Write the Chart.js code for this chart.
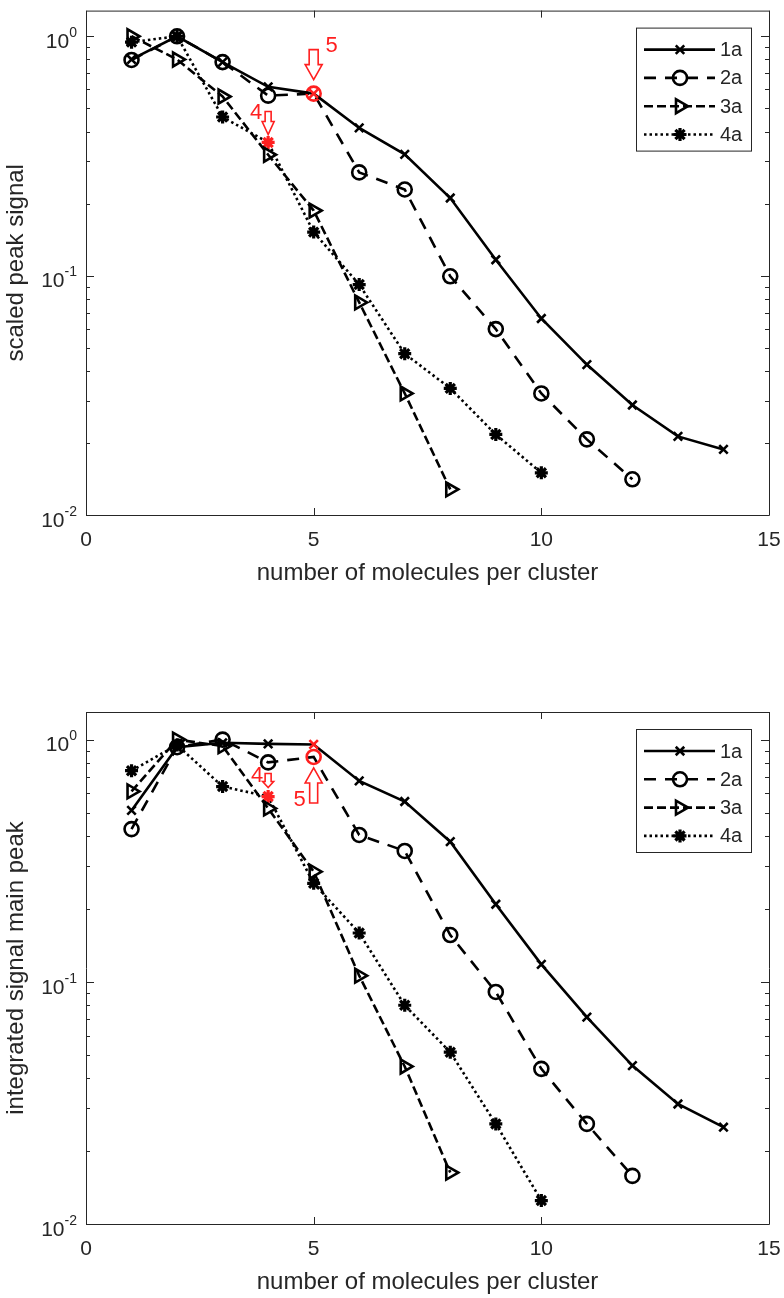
<!DOCTYPE html>
<html>
<head>
<meta charset="utf-8">
<script src="https://cdn.jsdelivr.net/npm/chart.js@4.4.0/dist/chart.umd.min.js"></script>
<style>
  html, body { margin: 0; padding: 0; background: #fff; }
  #wrap { position: relative; width: 784px; height: 1298px; }
  canvas { position: absolute; left: 0; }
</style>
</head>
<body>
<div id="wrap">
  <canvas id="peakChart" width="784" height="640" style="top:0px"></canvas>
  <canvas id="integChart" width="784" height="658" style="top:640px"></canvas>
</div>
<script>
// ---- data ----
const clusterSizes = [1, 2, 3, 4, 5, 6, 7, 8, 9, 10, 11, 12, 13, 14];
const seriesNames = ['1a', '2a', '3a', '4a'];

// top panel: scaled peak signal
const peak1a = [0.80, 1.00, 0.78, 0.615, 0.576, 0.414, 0.321, 0.211, 0.1165, 0.0662, 0.0425, 0.0288, 0.0213, 0.0188];
const peak2a = [0.796, 1.00, 0.78, 0.565, 0.576, 0.27, 0.229, 0.0994, 0.0598, 0.0322, 0.0207, 0.0141];
const peak3a = [1.00, 0.80, 0.56, 0.32, 0.187, 0.0773, 0.0322, 0.0128];
const peak4a = [0.945, 1.00, 0.46, 0.36, 0.152, 0.0918, 0.0472, 0.0338, 0.0217, 0.0150];

// bottom panel: integrated signal main peak
const integ1a = [0.51, 0.93, 0.97, 0.96, 0.955, 0.675, 0.555, 0.379, 0.209, 0.118, 0.0715, 0.0451, 0.0313, 0.0251];
const integ2a = [0.427, 0.93, 1.00, 0.805, 0.848, 0.404, 0.347, 0.156, 0.0908, 0.0437, 0.0259, 0.0158];
const integ3a = [0.611, 1.00, 0.94, 0.52, 0.285, 0.106, 0.0447, 0.0163];
const integ4a = [0.744, 0.95, 0.64, 0.582, 0.255, 0.159, 0.080, 0.0512, 0.0259, 0.0125];

// highlighted (red) point per series, -1 = none
const redIndex = [4, 4, -1, 3];

const xTicks = [0, 5, 10, 15];
const yMajorTicks = [1, 0.1, 0.01];
const yTickExp = ['0', '-1', '-2'];

// ---- style ----
const INK = '#262626';
const RED = '#ff1f1f';
const FONT = '"Liberation Sans", Arial, Helvetica, sans-serif';

const lineStyles = [
  { dash: [], point: 'crossRot', radius: 6, rot: 0, pw: 2.6 },
  { dash: [12, 9], point: 'circle', radius: 7, rot: 0, pw: 2.6 },
  { dash: [9, 4], point: 'triangle', radius: 8, rot: 90, pw: 2.6 },
  { dash: [2.5, 3], point: 'star', radius: 6.5, rot: 0, pw: 3.2 }
];

function buildDatasets(seriesValues) {
  return seriesValues.map((vals, i) => {
    const st = lineStyles[i];
    return {
      label: seriesNames[i],
      data: vals.map((v, k) => ({ x: clusterSizes[k], y: v })),
      borderColor: '#000',
      borderWidth: 2.6,
      borderDash: st.dash,
      pointStyle: st.point,
      pointRadius: st.radius,
      pointRotation: st.rot,
      pointBorderWidth: st.pw,
      pointBorderColor: vals.map((_, k) => k === redIndex[i] ? RED : '#000'),
      pointBackgroundColor: 'rgba(0,0,0,0)',
      tension: 0,
      fill: false
    };
  });
}

// hollow block arrow, dir = 1 points down, -1 points up
function drawArrow(ctx, cx, tipY, dir, shaftW, shaftH, headW, headH) {
  const baseY = tipY - dir * headH;
  const endY = baseY - dir * shaftH;
  ctx.beginPath();
  ctx.moveTo(cx, tipY);
  ctx.lineTo(cx - headW / 2, baseY);
  ctx.lineTo(cx - shaftW / 2, baseY);
  ctx.lineTo(cx - shaftW / 2, endY);
  ctx.lineTo(cx + shaftW / 2, endY);
  ctx.lineTo(cx + shaftW / 2, baseY);
  ctx.lineTo(cx + headW / 2, baseY);
  ctx.closePath();
  ctx.stroke();
}

const matlabAxes = {
  id: 'matlabAxes',
  afterDraw(chart, args, opts) {
    const { ctx, chartArea: a, scales: { x, y } } = chart;
    ctx.save();

    // box + inward ticks
    ctx.strokeStyle = INK;
    ctx.lineWidth = 1;
    ctx.setLineDash([]);
    ctx.beginPath();
    ctx.rect(a.left + 0.5, a.top + 0.5, a.right - a.left, a.bottom - a.top);
    xTicks.forEach(v => {
      const px = Math.round(x.getPixelForValue(v)) + 0.5;
      ctx.moveTo(px, a.bottom); ctx.lineTo(px, a.bottom - 7);
      ctx.moveTo(px, a.top); ctx.lineTo(px, a.top + 7);
    });
    for (let d = -2; d <= 0; d++) {
      for (let m = 1; m <= 9; m++) {
        const v = m * Math.pow(10, d);
        if (v > y.max) continue;
        const py = Math.round(y.getPixelForValue(v)) + 0.5;
        const len = m === 1 ? 8 : 4;
        ctx.moveTo(a.left, py); ctx.lineTo(a.left + len, py);
        ctx.moveTo(a.right, py); ctx.lineTo(a.right - len, py);
      }
    }
    ctx.stroke();

    // tick labels
    ctx.fillStyle = INK;
    ctx.font = '21px ' + FONT;
    ctx.textAlign = 'center';
    ctx.textBaseline = 'middle';
    xTicks.forEach(v => ctx.fillText(String(v), x.getPixelForValue(v), a.bottom + 25));

    yMajorTicks.forEach((v, i) => {
      const py = y.getPixelForValue(v);
      ctx.textAlign = 'right';
      ctx.font = '14px ' + FONT;
      const expW = ctx.measureText(yTickExp[i]).width;
      ctx.fillText(yTickExp[i], a.left - 9, py - 3);
      ctx.font = '21px ' + FONT;
      ctx.fillText('10', a.left - 9 - expW, py + 6);
    });

    // axis titles
    ctx.font = '24px ' + FONT;
    ctx.textAlign = 'center';
    ctx.fillText('number of molecules per cluster', (a.left + a.right) / 2, a.bottom + 58);
    ctx.save();
    ctx.translate(16, (a.top + a.bottom) / 2);
    ctx.rotate(-Math.PI / 2);
    ctx.fillText(opts.yTitle, 0, 0);
    ctx.restore();

    // legend
    const lx = a.right - 133, ly = a.top + 17, lw = 115, lh = 123;
    ctx.fillStyle = '#fff';
    ctx.fillRect(lx, ly, lw, lh);
    ctx.strokeStyle = INK;
    ctx.lineWidth = 1;
    ctx.strokeRect(lx + 0.5, ly + 0.5, lw, lh);
    chart.data.datasets.forEach((ds, i) => {
      const ey = ly + 22 + i * 28.3;
      ctx.strokeStyle = '#000';
      ctx.lineWidth = ds.borderWidth;
      ctx.setLineDash(ds.borderDash);
      ctx.beginPath();
      ctx.moveTo(lx + 8, ey); ctx.lineTo(lx + 79, ey);
      ctx.stroke();
      ctx.setLineDash([]);
      ctx.lineWidth = ds.pointBorderWidth;
      ctx.fillStyle = 'rgba(0,0,0,0)';
      Chart.helpers.drawPoint(ctx, {
        pointStyle: ds.pointStyle, radius: ds.pointRadius,
        rotation: ds.pointRotation, borderWidth: ds.pointBorderWidth
      }, lx + 44, ey);
      ctx.fillStyle = INK;
      ctx.font = '20px ' + FONT;
      ctx.textAlign = 'left';
      ctx.fillText(ds.label, lx + 84, ey + 1);
    });

    // red annotations
    ctx.strokeStyle = RED;
    ctx.fillStyle = RED;
    ctx.lineWidth = 1.6;
    ctx.font = '22px ' + FONT;
    ctx.textAlign = 'center';
    (opts.notes || []).forEach(n => {
      const cx = x.getPixelForValue(n.x);
      const tip = y.getPixelForValue(n.y) + n.gap;
      drawArrow(ctx, cx, tip, n.dir, n.shaftW, n.shaftH, n.headW, n.headH);
      ctx.fillText(n.label, cx + n.dx, tip + n.dy);
    });

    ctx.restore();
  }
};

function makeChart(id, seriesValues, yMax, padBottom, padTop, yTitle, notes) {
  return new Chart(document.getElementById(id), {
    type: 'line',
    data: { datasets: buildDatasets(seriesValues) },
    options: {
      responsive: false,
      animation: false,
      events: [],
      devicePixelRatio: 1,
      layout: { padding: { left: 86, right: 15, top: padTop, bottom: padBottom } },
      scales: {
        x: { type: 'linear', min: 0, max: 15, display: false },
        y: { type: 'logarithmic', min: 0.01, max: yMax, display: false }
      },
      plugins: {
        legend: { display: false },
        tooltip: { enabled: false },
        matlabAxes: { yTitle: yTitle, notes: notes }
      }
    },
    plugins: [matlabAxes]
  });
}

makeChart('peakChart', [peak1a, peak2a, peak3a, peak4a], 1.28, 125, 3, 'scaled peak signal', [
  { x: 5, y: peak2a[4], dir: 1, gap: -14, shaftW: 9, shaftH: 15, headW: 17, headH: 15, label: '5', dx: 18, dy: -34 },
  { x: 4, y: peak4a[3], dir: 1, gap: -8, shaftW: 6, shaftH: 10, headW: 12, headH: 13, label: '4', dx: -12, dy: -22 }
]);

makeChart('integChart', [integ1a, integ2a, integ3a, integ4a], 1.3, 74, 72, 'integrated signal main peak', [
  { x: 5, y: integ2a[4], dir: -1, gap: 11, shaftW: 8, shaftH: 20, headW: 17, headH: 15, label: '5', dx: -14, dy: 32 },
  { x: 4, y: integ4a[3], dir: 1, gap: -9, shaftW: 6, shaftH: 8, headW: 11, headH: 6, label: '4', dx: -11, dy: -12 }
]);
</script>
</body>
</html>
